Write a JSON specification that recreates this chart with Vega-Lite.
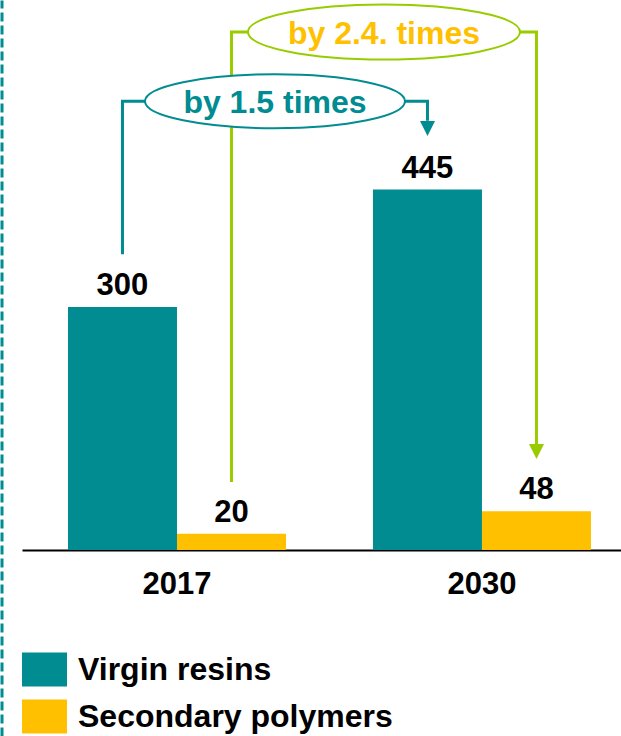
{
  "$schema": "https://vega.github.io/schema/vega-lite/v6.json",
  "width": 599,
  "height": 736,
  "autosize": {"type": "none"},
  "padding": {"left": 22, "top": 0, "right": 0, "bottom": 0},
  "background": "white",
  "config": {"view": {"stroke": null}, "font": "Liberation Sans"},
  "datasets": {
    "bars": [
      {"year": "2017", "series": "Virgin resins", "value": 300},
      {"year": "2017", "series": "Secondary polymers", "value": 20},
      {"year": "2030", "series": "Virgin resins", "value": 445},
      {"year": "2030", "series": "Secondary polymers", "value": 48}
    ],
    "links": [
      {"link": "a", "order": 1, "year": "2017", "series": "Virgin resins", "value": 365},
      {"link": "a", "order": 2, "year": "2017", "series": "Virgin resins", "value": 554},
      {"link": "a", "order": 3, "year": "2030", "series": "Virgin resins", "value": 554},
      {"link": "a", "order": 4, "year": "2030", "series": "Virgin resins", "value": 530},
      {"link": "b", "order": 1, "year": "2017", "series": "Secondary polymers", "value": 84},
      {"link": "b", "order": 2, "year": "2017", "series": "Secondary polymers", "value": 639.5},
      {"link": "b", "order": 3, "year": "2030", "series": "Secondary polymers", "value": 639.5},
      {"link": "b", "order": 4, "year": "2030", "series": "Secondary polymers", "value": 131}
    ],
    "arrows": [
      {"link": "a", "year": "2030", "series": "Virgin resins", "value": 520.4},
      {"link": "b", "year": "2030", "series": "Secondary polymers", "value": 121.6}
    ],
    "notes": [
      {"link": "a", "year": "2017", "value": 554, "text": "by 1.5 times"},
      {"link": "b", "year": "2030", "value": 639.5, "text": "by 2.4. times"}
    ]
  },
  "encoding": {
    "x": {
      "field": "year",
      "type": "nominal",
      "scale": {"domain": ["2017", "2030"], "paddingInner": 0.2852, "paddingOuter": 0.1246, "align": 0.605},
      "axis": {
        "orient": "bottom",
        "offset": -186,
        "title": null,
        "labelAngle": 0,
        "domain": true,
        "domainColor": "black",
        "domainWidth": 2,
        "ticks": false,
        "tickSize": 0,
        "grid": false,
        "labelFont": "Liberation Sans",
        "labelFontSize": 31,
        "labelFontWeight": "bold",
        "labelColor": "black",
        "labelBaseline": "alphabetic",
        "labelPadding": 43
      }
    },
    "y": {
      "field": "value",
      "type": "quantitative",
      "scale": {"domain": [-229.6, 679], "nice": false, "zero": false},
      "axis": {
        "orient": "left",
        "offset": 20.5,
        "title": null,
        "labels": false,
        "ticks": false,
        "grid": false,
        "domain": true,
        "domainColor": "#008C91",
        "domainWidth": 3,
        "domainDash": [9, 4]
      }
    }
  },
  "layer": [
    {
      "data": {"name": "bars"},
      "mark": {"type": "bar", "stroke": null},
      "encoding": {
        "xOffset": {"field": "series", "type": "nominal", "scale": {"domain": ["Virgin resins", "Secondary polymers"], "paddingInner": 0, "paddingOuter": 0}},
        "y2": {"datum": 0},
        "color": {
          "field": "series",
          "type": "nominal",
          "scale": {"domain": ["Virgin resins", "Secondary polymers"], "range": ["#008C91", "#FFC000"]},
          "legend": {
            "orient": "none",
            "legendX": 0,
            "legendY": 647,
            "title": null,
            "symbolType": "M-1,-0.756L1,-0.756L1,0.756L-1,0.756Z",
            "symbolSize": 2025,
            "symbolStrokeWidth": 0,
            "symbolOpacity": 1,
            "labelFont": "Liberation Sans",
            "labelFontSize": 32,
            "labelFontWeight": "bold",
            "labelColor": "black",
            "labelOffset": 11,
            "labelLimit": 600,
            "rowPadding": 7
          }
        }
      }
    },
    {
      "data": {"name": "bars"},
      "mark": {"type": "text", "baseline": "alphabetic", "dy": -12, "fontSize": 31, "fontWeight": "bold", "color": "black", "font": "Liberation Sans"},
      "encoding": {
        "xOffset": {"field": "series", "type": "nominal", "scale": {"domain": ["Virgin resins", "Secondary polymers"], "paddingInner": 0, "paddingOuter": 0}},
        "text": {"field": "value", "type": "quantitative"}
      }
    },
    {
      "data": {"name": "links"},
      "mark": {"type": "line", "strokeWidth": 3, "strokeJoin": "miter", "strokeCap": "butt"},
      "encoding": {
        "xOffset": {"field": "series", "type": "nominal", "scale": {"domain": ["Virgin resins", "Secondary polymers"], "paddingInner": 0, "paddingOuter": 0}},
        "detail": {"field": "link", "type": "nominal"},
        "order": {"field": "order", "type": "quantitative"},
        "stroke": {"condition": {"test": "datum.link === 'a'", "value": "#008C91"}, "value": "#99CC00"}
      }
    },
    {
      "data": {"name": "arrows"},
      "mark": {"type": "point", "shape": "M-1,-1L1,-1L0,1Z", "size": 225, "filled": true, "opacity": 1, "strokeWidth": 0},
      "encoding": {
        "xOffset": {"field": "series", "type": "nominal", "scale": {"domain": ["Virgin resins", "Secondary polymers"], "paddingInner": 0, "paddingOuter": 0}},
        "fill": {"condition": {"test": "datum.link === 'a'", "value": "#008C91"}, "value": "#99CC00"}
      }
    },
    {
      "data": {"name": "notes"},
      "transform": [{"filter": "datum.link === 'a'"}],
      "mark": {"type": "point", "shape": "M-1,0A1,0.2077,0,1,0,1,0A1,0.2077,0,1,0,-1,0Z", "size": 67600, "filled": true, "fill": "white", "stroke": "#008C91", "strokeWidth": 2, "opacity": 1},
      "encoding": {"x": {"field": "year", "type": "nominal", "bandPosition": 0.9495}}
    },
    {
      "data": {"name": "notes"},
      "transform": [{"filter": "datum.link === 'b'"}],
      "mark": {"type": "point", "shape": "M-1,0A1,0.2022,0,1,0,1,0A1,0.2022,0,1,0,-1,0Z", "size": 73984, "filled": true, "fill": "white", "stroke": "#99CC00", "strokeWidth": 2, "opacity": 1},
      "encoding": {"x": {"field": "year", "type": "nominal", "bandPosition": 0.0505}}
    },
    {
      "data": {"name": "notes"},
      "transform": [{"filter": "datum.link === 'a'"}],
      "mark": {"type": "text", "baseline": "alphabetic", "dy": 12, "fontSize": 32, "fontWeight": "bold", "color": "#008C91", "font": "Liberation Sans"},
      "encoding": {"x": {"field": "year", "type": "nominal", "bandPosition": 0.9495}, "text": {"field": "text"}}
    },
    {
      "data": {"name": "notes"},
      "transform": [{"filter": "datum.link === 'b'"}],
      "mark": {"type": "text", "baseline": "alphabetic", "dy": 12, "fontSize": 32, "fontWeight": "bold", "color": "#FFC000", "font": "Liberation Sans"},
      "encoding": {"x": {"field": "year", "type": "nominal", "bandPosition": 0.0505}, "text": {"field": "text"}}
    }
  ]
}
